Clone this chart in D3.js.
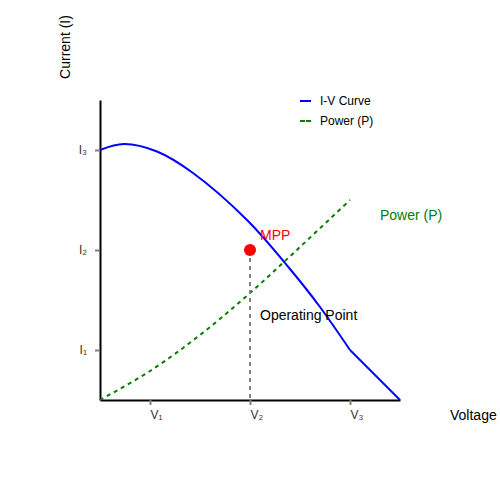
<!DOCTYPE html>
<html>
<head>
<meta charset="utf-8">
<script src="https://cdn.jsdelivr.net/npm/d3@7"></script>
<style>
  body { margin: 0; background: #fff; }
  svg { font-family: "Liberation Sans", Arial, sans-serif; }
</style>
</head>
<body>
<div id="chart"></div>
<script>
'use strict'

// Data.
const ivVoltage = [0, 0.48, 1.14, 1.86, 2.94, 3.8, 4.4, 5, 6];
const ivCurrent = [5.0, 5.12, 4.97, 4.54, 3.6, 2.62, 1.86, 1.0, 0];
const powerVoltage = [0, 1, 2, 3, 4, 5];
const powerValue = [0, 0.58, 1.3, 2.14, 3.06, 4.0];
const xTicks = [1, 3, 5];
const xTickLabels = ['V₁', 'V₂', 'V₃'];
const yTicks = [1, 3, 5];
const yTickLabels = ['I₁', 'I₂', 'I₃'];
const mpp = {v: 3, i: 3};
const legendItems = [
    {label: 'I-V Curve', color: 'blue', dash: null},
    {label: 'Power (P)', color: 'green', dash: '5,1'}
];

let width = 500,
    height = 500,
    margin = {top: 100, right: 100, bottom: 100, left: 100};

let svg = d3.select('#chart')
    .append('svg')
        .attr('width', width)
        .attr('height', height);

// Scales.
let x = d3.scaleLinear()
    .domain([0, 6])
    .range([margin.left, width - margin.right]);

let y = d3.scaleLinear()
    .domain([0, 6])
    .range([height - margin.bottom, margin.top]);

// Axes.
let xAxis = d3.axisBottom(x)
    .tickValues(xTicks)
    .tickFormat((d, i) => xTickLabels[i])
    .tickSizeInner(5)
    .tickSizeOuter(0)
    .tickPadding(5);

let yAxis = d3.axisLeft(y)
    .tickValues(yTicks)
    .tickFormat((d, i) => yTickLabels[i])
    .tickSizeInner(5)
    .tickSizeOuter(0)
    .tickPadding(8);

function styleAxis(g) {
    g.select('.domain').attr('stroke', '#000').attr('stroke-width', 2);
    g.selectAll('.tick line').attr('stroke', '#808080').attr('stroke-width', 2);
    g.selectAll('.tick text').attr('fill', '#333').attr('font-size', 12)
        .attr('font-family', '"Liberation Sans", Arial, sans-serif');
}

svg.append('g')
    .attr('transform', `translate(0, ${y(0)})`)
    .call(xAxis)
    .call(styleAxis)
    .call(g => g.selectAll('.tick text').attr('text-anchor', 'start'));

svg.append('g')
    .attr('transform', `translate(${x(0)}, 0)`)
    .call(yAxis)
    .call(styleAxis);

// Axis titles.
svg.append('text')
    .attr('x', 450)
    .attr('y', 420)
    .attr('font-size', 14)
    .attr('fill', '#000')
    .text('Voltage');

svg.append('text')
    .attr('transform', 'translate(70, 47) rotate(-90)')
    .attr('text-anchor', 'middle')
    .attr('font-size', 14)
    .attr('fill', '#000')
    .text('Current (I)');

// I-V curve: smooth up to the knee, straight after it.
let ivData = ivVoltage.map((v, i) => ({v: v, i: ivCurrent[i]}));
let knee = ivData.length - 2;

svg.append('path')
    .datum(ivData.slice(0, knee + 1))
    .attr('fill', 'none')
    .attr('stroke', 'blue')
    .attr('stroke-width', 2)
    .attr('d', d3.line().x(d => x(d.v)).y(d => y(d.i)).curve(d3.curveCatmullRom));

svg.append('path')
    .datum(ivData.slice(knee))
    .attr('fill', 'none')
    .attr('stroke', 'blue')
    .attr('stroke-width', 2)
    .attr('d', d3.line().x(d => x(d.v)).y(d => y(d.i)));

// Power curve.
let powerData = powerVoltage.map((v, i) => ({v: v, p: powerValue[i]}));

svg.append('path')
    .datum(powerData)
    .attr('fill', 'none')
    .attr('stroke', 'green')
    .attr('stroke-width', 2)
    .attr('stroke-dasharray', '4,4')
    .attr('d', d3.line().x(d => x(d.v)).y(d => y(d.p)).curve(d3.curveCatmullRom));

// MPP marker and drop line.
svg.append('line')
    .attr('x1', x(mpp.v))
    .attr('x2', x(mpp.v))
    .attr('y1', y(mpp.i))
    .attr('y2', y(0))
    .attr('stroke', 'gray')
    .attr('stroke-width', 2)
    .attr('stroke-dasharray', '4,4');

svg.append('circle')
    .attr('cx', x(mpp.v))
    .attr('cy', y(mpp.i))
    .attr('r', 6)
    .attr('fill', 'red');

// Annotations.
svg.append('text')
    .attr('x', x(mpp.v) + 10)
    .attr('y', y(mpp.i) - 10)
    .attr('font-size', 14)
    .attr('fill', 'red')
    .text('MPP');

svg.append('text')
    .attr('x', x(mpp.v) + 10)
    .attr('y', y(mpp.i) + 70)
    .attr('font-size', 14)
    .attr('fill', '#000')
    .text('Operating Point');

svg.append('text')
    .attr('x', 380)
    .attr('y', 220)
    .attr('font-size', 14)
    .attr('fill', 'green')
    .text('Power (P)');

// Legend.
let legend = svg.append('g')
    .attr('transform', 'translate(300, 101)');

let items = legend.selectAll('g')
    .data(legendItems)
    .join('g')
        .attr('transform', (d, i) => `translate(0, ${i * 20})`);

items.append('line')
    .attr('x1', 0)
    .attr('x2', 11)
    .attr('stroke', d => d.color)
    .attr('stroke-width', 2)
    .attr('stroke-dasharray', d => d.dash);

items.append('text')
    .attr('x', 20)
    .attr('y', 4)
    .attr('font-size', 12)
    .attr('fill', '#000')
    .text(d => d.label);
</script>
</body>
</html>
